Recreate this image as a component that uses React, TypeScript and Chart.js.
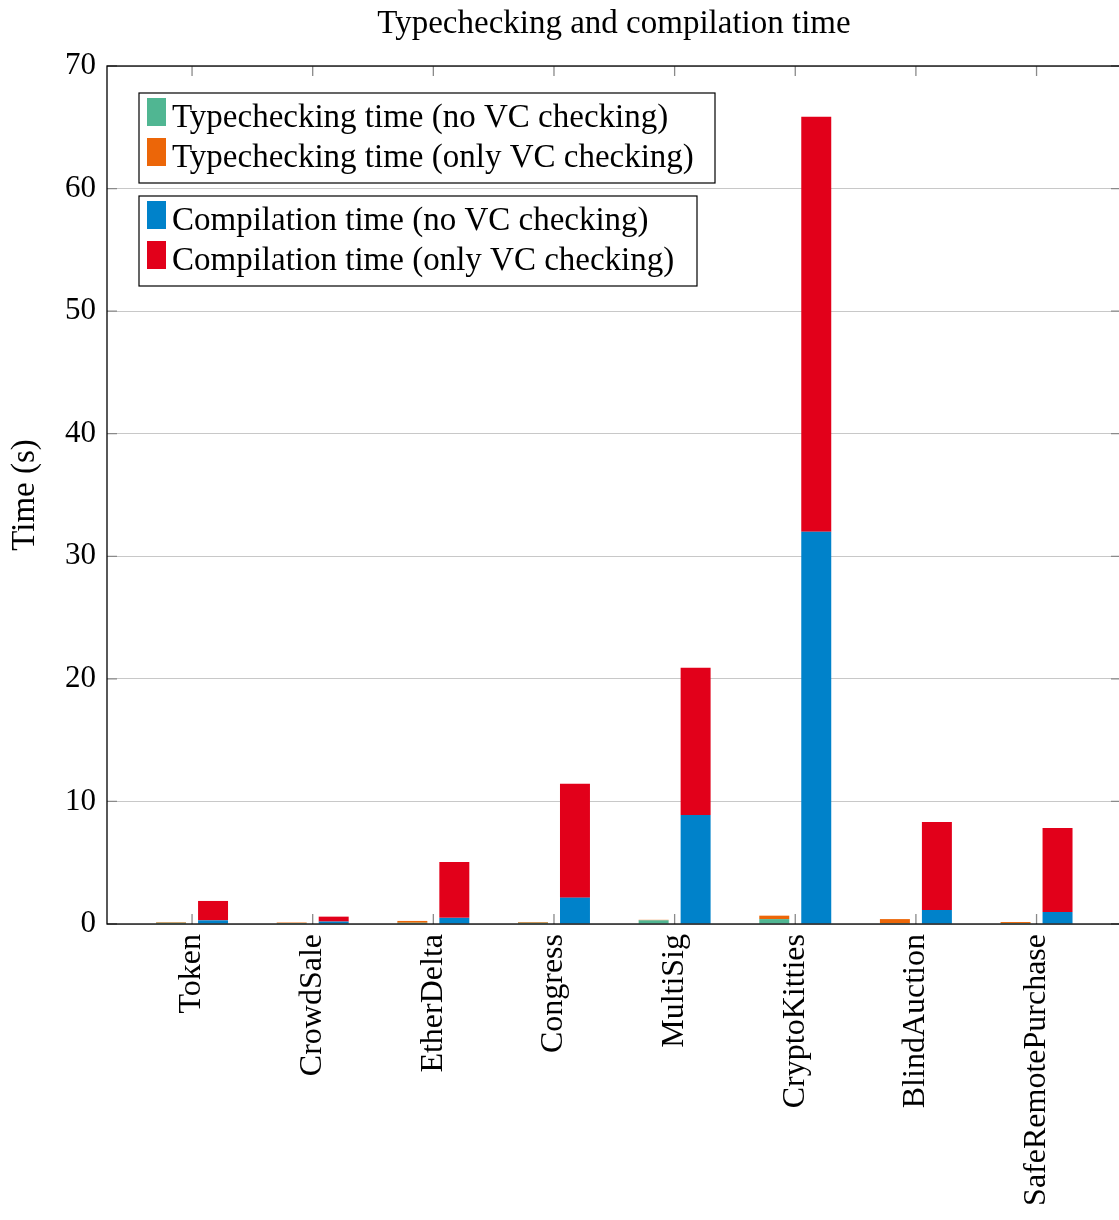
import React, { useEffect, useRef } from 'react';
import { Chart, registerables } from 'chart.js';

Chart.register(...registerables);

const categories = ['Token', 'CrowdSale', 'EtherDelta', 'Congress', 'MultiSig', 'CryptoKitties', 'BlindAuction', 'SafeRemotePurchase'];
const typecheckNoVC = [0.1, 0.08, 0.1, 0.1, 0.3, 0.4, 0.07, 0.08];
const typecheckOnlyVC = [0.05, 0.04, 0.15, 0.06, 0.04, 0.28, 0.33, 0.08];
const compileNoVC = [0.3, 0.2, 0.5, 2.15, 8.9, 32.0, 1.14, 0.98];
const compileOnlyVC = [1.58, 0.4, 4.56, 9.3, 12.0, 33.85, 7.18, 6.85];
const yTickValues = [0, 10, 20, 30, 40, 50, 60, 70];
const seriesLabels = [
  'Typechecking time (no VC checking)',
  'Typechecking time (only VC checking)',
  'Compilation time (no VC checking)',
  'Compilation time (only VC checking)',
];
const seriesColors = ['#50b692', '#ec6608', '#0082ca', '#e2001a'];
const chartTitle = 'Typechecking and compilation time';
const yAxisTitle = 'Time (s)';

const FONT = '"Liberation Serif", "DejaVu Serif", serif';

const framePlugin = {
  id: 'pgfFrame',
  afterDraw(chart: any) {
    const { ctx, chartArea } = chart;
    const { left, right, top, bottom } = chartArea;
    const xs = chart.scales.x;
    const ys = chart.scales.y;
    ctx.save();
    ctx.strokeStyle = '#8a8a8a';
    ctx.lineWidth = 1.3;
    const tl = 10;
    categories.forEach((_, i) => {
      const px = xs.getPixelForValue(i);
      ctx.beginPath();
      ctx.moveTo(px, bottom);
      ctx.lineTo(px, bottom - tl);
      ctx.moveTo(px, top);
      ctx.lineTo(px, top + tl);
      ctx.stroke();
    });
    yTickValues.forEach((v) => {
      const py = ys.getPixelForValue(v);
      ctx.beginPath();
      ctx.moveTo(left, py);
      ctx.lineTo(left + tl, py);
      ctx.moveTo(right, py);
      ctx.lineTo(right - tl, py);
      ctx.stroke();
    });
    ctx.strokeStyle = '#000';
    ctx.lineWidth = 1.3;
    ctx.strokeRect(left, top, right - left, bottom - top);
    ctx.restore();
  },
};

const legendPlugin = {
  id: 'twoBoxLegend',
  afterDatasetsDraw(chart: any) {
    const { ctx, chartArea } = chart;
    const groups = [
      { idx: [0, 1], dy: 27, w: 576 },
      { idx: [2, 3], dy: 130, w: 558 },
    ];
    ctx.save();
    ctx.font = `33px ${FONT}`;
    ctx.textBaseline = 'alphabetic';
    ctx.textAlign = 'left';
    groups.forEach((g) => {
      const bx = chartArea.left + 32;
      const by = chartArea.top + g.dy;
      const bh = 90;
      ctx.fillStyle = '#fff';
      ctx.fillRect(bx, by, g.w, bh);
      ctx.strokeStyle = '#000';
      ctx.lineWidth = 1.2;
      ctx.strokeRect(bx, by, g.w, bh);
      g.idx.forEach((di, r) => {
        const ds = chart.data.datasets[di];
        const sy = by + 5 + r * 40;
        ctx.fillStyle = ds.backgroundColor;
        ctx.fillRect(bx + 8, sy, 19, 28);
        ctx.fillStyle = '#000';
        ctx.fillText(ds.label, bx + 33, by + 34 + r * 40);
      });
    });
    ctx.restore();
  },
};

export default function App() {
  const canvasRef = useRef<HTMLCanvasElement | null>(null);

  useEffect(() => {
    document.body.style.margin = '0';
    const canvas = canvasRef.current;
    if (!canvas) return;
    const mk = (vals: number[]) => vals.map((y, i) => ({ x: i, y }));
    const stacks = ['typ', 'typ', 'comp', 'comp'];
    const values = [typecheckNoVC, typecheckOnlyVC, compileNoVC, compileOnlyVC];
    const chart = new Chart(canvas, {
      type: 'bar',
      data: {
        datasets: values.map((v, k) => ({
          label: seriesLabels[k],
          data: mk(v),
          backgroundColor: seriesColors[k],
          borderWidth: 0,
          stack: stacks[k],
          categoryPercentage: 0.696,
          barPercentage: 0.714,
        })),
      },
      options: {
        responsive: false,
        animation: false,
        devicePixelRatio: 1,
        layout: { padding: { top: 0, left: 0, right: 2, bottom: 0 } },
        plugins: {
          legend: { display: false },
          tooltip: { enabled: false },
          title: {
            display: true,
            fullSize: false,
            text: chartTitle,
            color: '#000',
            font: { family: FONT, size: 33, weight: 'normal', lineHeight: 1.2 },
            padding: { top: 5, bottom: 21.4 },
          },
        },
        scales: {
          x: {
            type: 'linear',
            min: -0.705,
            max: 7.7,
            offset: false,
            afterBuildTicks: (s: any) => {
              s.ticks = categories.map((_, i) => ({ value: i }));
            },
            afterFit: (s: any) => {
              s.height = 296;
            },
            grid: { display: false, drawTicks: false },
            border: { display: false },
            ticks: {
              autoSkip: false,
              minRotation: 90,
              maxRotation: 90,
              padding: 10,
              color: '#000',
              font: { family: FONT, size: 32 },
              callback: (v: any) => categories[v] ?? '',
            },
          },
          y: {
            type: 'linear',
            stacked: true,
            min: 0,
            max: 70,
            afterBuildTicks: (s: any) => {
              s.ticks = yTickValues.map((v) => ({ value: v }));
            },
            afterFit: (s: any) => {
              s.width = 107;
            },
            grid: { color: '#c8c8c8', drawTicks: false, lineWidth: 1 },
            border: { display: false },
            title: {
              display: true,
              text: yAxisTitle,
              color: '#000',
              font: { family: FONT, size: 33 },
              padding: { top: 6, bottom: 0 },
            },
            ticks: {
              padding: 11,
              color: '#000',
              font: { family: FONT, size: 31 },
            },
          },
        },
      },
      plugins: [legendPlugin, framePlugin],
    } as any);
    return () => chart.destroy();
  }, []);

  return (
    <div style={{ width: 1119, height: 1220, overflow: 'hidden', background: '#fff' }}>
      <canvas ref={canvasRef} width={1123} height={1220} style={{ display: 'block' }} />
    </div>
  );
}
